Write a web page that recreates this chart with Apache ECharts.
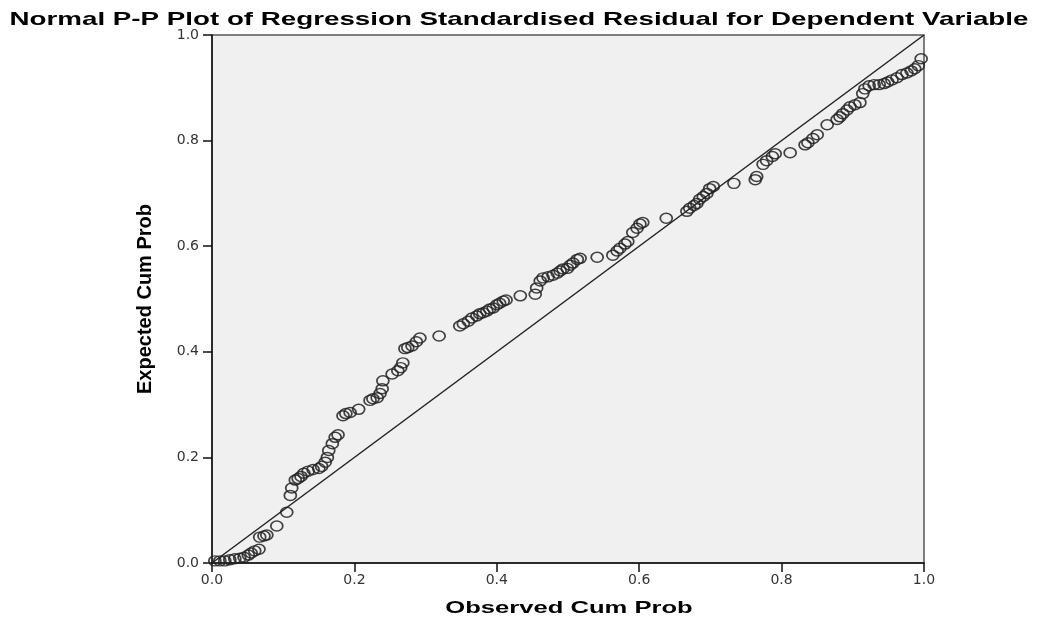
<!DOCTYPE html>
<html>
<head>
<meta charset="utf-8">
<title>Normal P-P Plot</title>
<script src="https://cdn.jsdelivr.net/npm/echarts@6/dist/echarts.min.js"></script>
<style>
  html,body{margin:0;padding:0;background:#fff}
  #chart{width:1038px;height:621px}
</style>
</head>
<body>
<div id="chart"></div>
<script>
// 观测累积概率 / 期望累积概率（从图上读出来的估计值）
const observed = [
  0.004,0.011,0.018,0.025,0.032,0.039,0.045,0.051,0.055,0.060,0.066,
  0.067,0.073,0.077,0.091,0.105,0.110,0.112,
  0.117,0.121,0.125,0.129,0.135,0.142,0.150,0.154,
  0.159,0.162,0.164,0.169,0.173,0.177,
  0.184,0.188,0.194,0.206,
  0.222,0.226,0.232,0.236,0.239,0.240,0.253,0.261,0.265,0.268,
  0.271,0.275,0.281,0.287,0.292,0.319,
  0.348,0.353,0.360,0.365,0.372,0.376,0.381,0.386,0.390,0.395,0.400,0.404,0.409,0.413,
  0.433,
  0.454,0.456,0.461,0.465,0.472,0.479,0.485,0.489,0.493,0.499,0.503,0.507,0.513,0.517,
  0.541,
  0.563,0.569,0.573,0.580,0.584,0.591,0.597,0.601,0.605,
  0.638,
  0.667,0.671,0.677,0.681,0.685,0.690,0.695,0.699,0.704,
  0.733,
  0.763,0.765,0.774,0.779,0.787,0.791,
  0.812,
  0.833,0.837,0.844,0.850,
  0.864,
  0.878,0.882,0.886,0.892,0.896,0.903,0.910,
  0.914,0.917,0.923,0.930,0.937,0.944,0.949,0.955,0.962,0.969,0.976,0.982,0.987,0.992,0.996
];
const expected = [
  0.004,0.004,0.004,0.006,0.008,0.009,0.011,0.015,0.019,0.023,0.026,
  0.049,0.051,0.053,0.070,0.096,0.128,0.142,
  0.157,0.160,0.164,0.170,0.174,0.177,0.179,0.183,
  0.191,0.200,0.213,0.226,0.238,0.243,
  0.279,0.283,0.285,0.291,
  0.308,0.311,0.313,0.321,0.330,0.345,0.358,0.364,0.370,0.379,
  0.406,0.408,0.411,0.419,0.426,0.430,
  0.449,0.453,0.458,0.464,0.468,0.472,0.474,0.477,0.481,0.483,0.489,0.492,0.496,0.498,
  0.506,
  0.509,0.521,0.534,0.540,0.542,0.545,0.549,0.553,0.557,0.558,0.564,0.568,0.575,0.577,
  0.579,
  0.583,0.591,0.596,0.604,0.609,0.626,0.634,0.642,0.645,
  0.653,
  0.666,0.672,0.677,0.681,0.689,0.694,0.700,0.709,0.713,
  0.719,
  0.726,0.732,0.755,0.762,0.770,0.775,
  0.777,
  0.792,0.796,0.804,0.811,
  0.830,
  0.840,0.845,0.851,0.858,0.864,0.868,0.872,
  0.889,0.898,0.904,0.906,0.906,0.908,0.911,0.915,0.919,0.925,0.928,0.932,0.936,0.942,0.955
];
// 对角参考线
const diagonal = [[0,0],[1,1]];
const ticks = [0,0.2,0.4,0.6,0.8,1.0];

const chart = echarts.init(document.getElementById('chart'));
const font = 'Liberation Sans, Arial, sans-serif';
const tickFont = 'DejaVu Sans, sans-serif';

function axis(margin){
  return {
    type:'value', min:0, max:1, interval:0.2,
    axisLine:{show:true, onZero:false, lineStyle:{color:'#111', width:1.5}},
    axisTick:{show:true, inside:false, length:9, lineStyle:{color:'#111', width:1.5}},
    axisLabel:{fontFamily:tickFont, fontSize:14, color:'#333', margin:margin,
      formatter:v=>ticks.includes(+v.toFixed(1)) ? v.toFixed(1) : ''},
    splitLine:{show:false}
  };
}

const xAx = axis(10);
const yAx = axis(13);
yAx.name = 'Expected Cum Prob';
yAx.nameLocation = 'middle';
yAx.nameGap = 57;
yAx.nameTextStyle = {fontFamily:font, fontWeight:'bold', fontSize:20, color:'#000'};

chart.setOption({
  animation:false,
  backgroundColor:'#fff',
  // 原图文字横向被拉宽，用 scaleX 模拟
  graphic:[
    {type:'text', x:519, y:20, scaleX:1.46, silent:true,
     style:{text:'Normal P-P Plot of Regression Standardised Residual for Dependent Variable',
            font:'bold 19px ' + font, fill:'#000', align:'center', verticalAlign:'middle'}},
    {type:'text', x:569, y:608, scaleX:1.55, silent:true,
     style:{text:'Observed Cum Prob',
            font:'bold 16.5px ' + font, fill:'#000', align:'center', verticalAlign:'middle'}}
  ],
  grid:{left:212, right:114, top:35, bottom:58, show:true,
        backgroundColor:'#f0f0f0', borderColor:'#555', borderWidth:1.5},
  xAxis:xAx,
  yAxis:yAx,
  series:[
    {
      type:'line', data:diagonal, symbol:'none', silent:true,
      lineStyle:{color:'#222', width:1.5}, z:2
    },
    {
      type:'scatter', symbol:'circle', symbolSize:[12,10],
      data:observed.map((x,i)=>[x, expected[i]]),
      itemStyle:{color:'rgba(0,0,0,0)', borderColor:'#222', borderWidth:1.6, opacity:0.85},
      z:3
    }
  ]
});
</script>
</body>
</html>
